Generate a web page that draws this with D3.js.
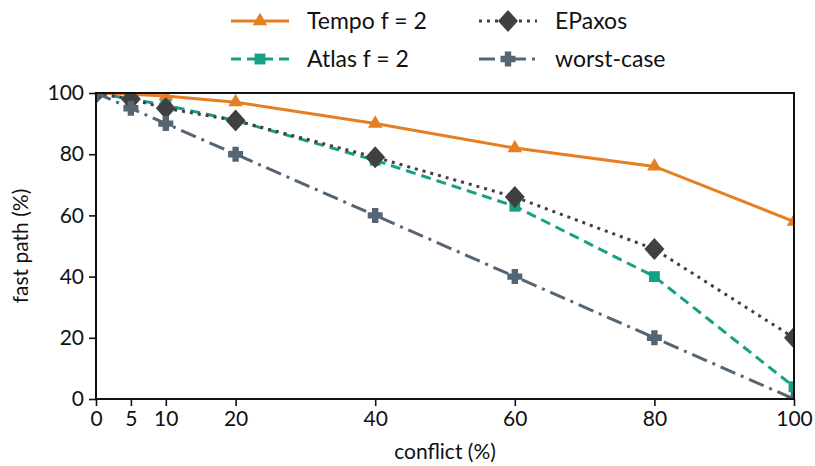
<!DOCTYPE html>
<html>
<head>
<meta charset="utf-8">
<script src="https://cdn.jsdelivr.net/npm/d3@7"></script>
<style>
	body { margin: 0; background: #fff; }
	text { font-family: Lato, "Open Sans", sans-serif; fill: #111; }
</style>
</head>
<body>
<div class="chart"></div>
<script>
var WIDTH = 815,
	HEIGHT = 466;

var margin = {top: 93, right: 21, bottom: 67, left: 96};

var conflict = [0, 5, 10, 20, 40, 60, 80, 100];
var tempo = [100, 99.6, 99, 97, 90, 82, 76, 58];
var atlas = [100, 98, 96, 91, 78, 63, 40, 4];
var epaxos = [100, 98, 95, 91, 79, 66, 49, 20];
var worstCase = [100, 95, 90, 80, 60, 40, 20, 0];

var xTicks = [0, 5, 10, 20, 40, 60, 80, 100];
var yTicks = [0, 20, 40, 60, 80, 100];

var series = [
	{name: "Tempo f = 2", values: tempo, color: "#e67e22", dash: null, marker: "triangle"},
	{name: "Atlas f = 2", values: atlas, color: "#16a085", dash: "10,6", marker: "square"},
	{name: "EPaxos", values: epaxos, color: "#404040", dash: "3,5", marker: "diamond"},
	{name: "worst-case", values: worstCase, color: "#566573", dash: "16,6,3,6", marker: "plus"}
];

var markerPath = function(type) {
	if (type == "triangle") return d3.symbol(d3.symbolTriangle2, 150)();
	if (type == "square") return d3.symbol(d3.symbolSquare2, 150)();
	if (type == "diamond") return "M0,-11L10,0L0,11L-10,0Z";
	// thick plus
	var a = 7.5, b = 3.2;
	return "M" + -b + "," + -a + "H" + b + "V" + -b + "H" + a + "V" + b + "H" + b + "V" + a +
		"H" + -b + "V" + b + "H" + -a + "V" + -b + "H" + -b + "Z";
};

var svg = d3.select(".chart").append("svg")
	.attr("width", WIDTH)
	.attr("height", HEIGHT);

var w = WIDTH - margin.left - margin.right,
	h = HEIGHT - margin.top - margin.bottom;

var xScale = d3.scaleLinear().domain([0, 100]).range([0, w]);
var yScale = d3.scaleLinear().domain([0, 100]).range([h, 0]);

var plot = svg.append("g")
	.attr("transform", "translate(" + margin.left + "," + margin.top + ")");

svg.append("clipPath").attr("id", "clip")
	.append("rect")
	.attr("width", w)
	.attr("height", h);

var xAxis = d3.axisBottom(xScale).tickValues(xTicks).tickSize(7).tickPadding(5);
var yAxis = d3.axisLeft(yScale).tickValues(yTicks).tickSize(7).tickPadding(5);

var xg = plot.append("g")
	.attr("transform", "translate(0," + h + ")")
	.call(xAxis);
var yg = plot.append("g").call(yAxis);

[xg, yg].forEach(function(g) {
	g.select(".domain").remove();
	g.selectAll("line").attr("stroke", "#111").attr("stroke-width", 1.6);
	g.selectAll("text").style("font-size", "21px").attr("fill", "#111");
});

var lines = plot.append("g").attr("clip-path", "url(#clip)");

var line = d3.line()
	.x(function(d, i) { return xScale(conflict[i]); })
	.y(function(d) { return yScale(d); });

series.forEach(function(s) {
	lines.append("path")
		.attr("d", line(s.values))
		.attr("fill", "none")
		.attr("stroke", s.color)
		.attr("stroke-width", 3)
		.attr("stroke-dasharray", s.dash);
	lines.selectAll(null)
		.data(s.values)
		.enter()
		.append("path")
		.attr("d", markerPath(s.marker))
		.attr("transform", function(d, i) { return "translate(" + xScale(conflict[i]) + "," + yScale(d) + ")"; })
		.attr("fill", s.color);
});

plot.append("rect")
	.attr("width", w)
	.attr("height", h)
	.attr("fill", "none")
	.attr("stroke", "#111")
	.attr("stroke-width", 2);

svg.append("text")
	.attr("x", margin.left + w / 2)
	.attr("y", 459)
	.attr("text-anchor", "middle")
	.style("font-size", "21px")
	.text("conflict (%)");

svg.append("text")
	.attr("transform", "translate(28," + (margin.top + h / 2) + ") rotate(-90)")
	.attr("text-anchor", "middle")
	.style("font-size", "21px")
	.text("fast path (%)");

// legend, two columns filled top to bottom
var legend = svg.append("g");
series.forEach(function(s, i) {
	var col = Math.floor(i / 2), row = i % 2;
	var lx = 231 + col * 248, ly = 21 + row * 38;
	var g = legend.append("g").attr("transform", "translate(" + lx + "," + ly + ")");
	g.append("line")
		.attr("x1", 0).attr("x2", 58)
		.attr("stroke", s.color)
		.attr("stroke-width", 3)
		.attr("stroke-dasharray", s.dash);
	g.append("path")
		.attr("d", markerPath(s.marker))
		.attr("transform", "translate(29,0)")
		.attr("fill", s.color);
	g.append("text")
		.attr("x", 76)
		.attr("dy", "0.35em")
		.style("font-size", "23px")
		.text(s.name);
});
</script>
</body>
</html>
